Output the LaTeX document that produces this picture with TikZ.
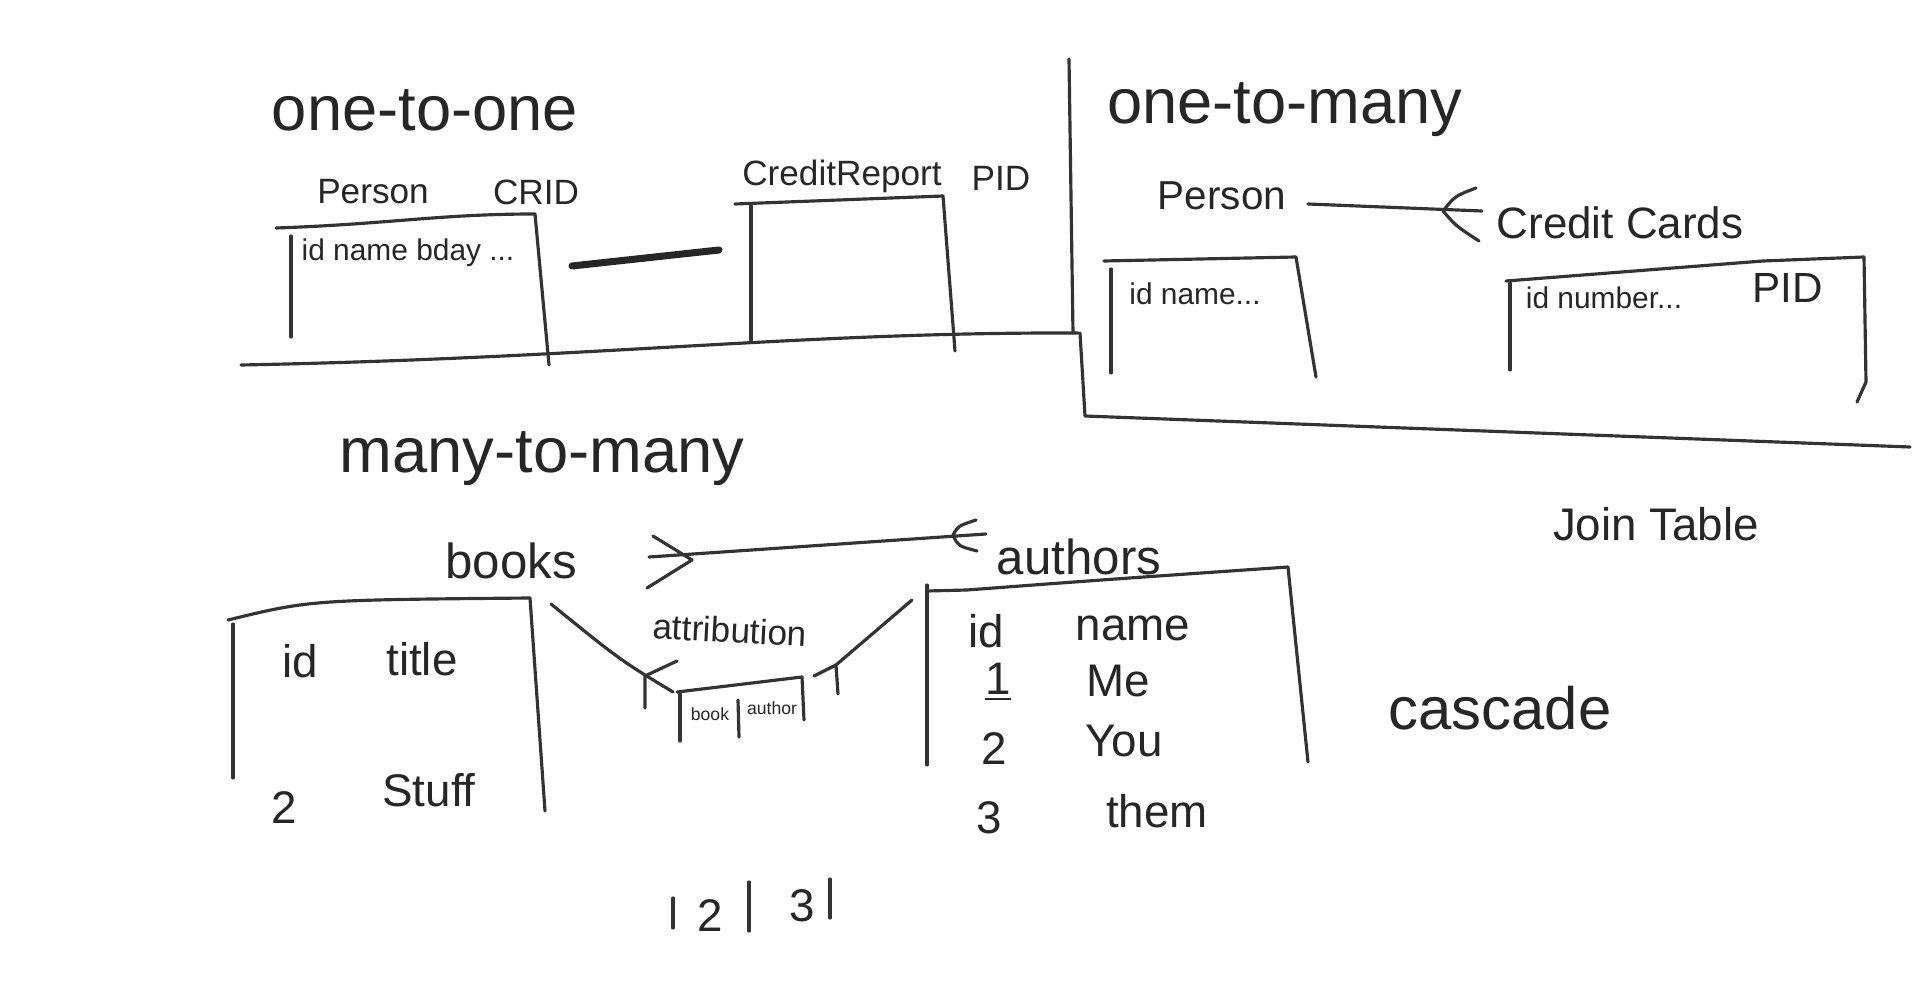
\documentclass[tikz,border=0pt]{standalone}
\usepackage{fontspec}
\setmainfont{Liberation Sans}
\usepackage{tikz}
\tikzset{
  font={\fontsize{10pt}{12}\selectfont},
  title/.style={font={\fontsize{18pt}{20}\selectfont}},
  tname/.style={font={\fontsize{14pt}{16}\selectfont}},
  lbl/.style={font={\fontsize{10pt}{12}\selectfont}},
  cell/.style={font={\fontsize{13pt}{15}\selectfont}},
  fields/.style={font={\fontsize{8.5pt}{10}\selectfont}},
  tiny/.style={font={\fontsize{5pt}{6}\selectfont}}}

\begin{document}
\begin{tikzpicture}[x=0.01cm,y=-0.01cm,line width=0.9pt,line cap=round,line join=round]
\tikzstyle{every node}+=[inner sep=0pt,text=black!85]
\useasboundingbox (0,0) rectangle (1920,997);
% one-to-one
\node [title] (oto) at (425,110) {one-to-one};
\node [lbl] (person1) at (373,192) {Person};
\node [lbl] (crid) at (536,192) {CRID};
\node [lbl] (creditreport) at (842,176) {CreditReport};
\node [lbl] (pid1) at (1001,178) {PID};
\node [fields] (personfields) at (408,253) {id name bday ...};
\draw [black!80] (276,228) .. controls (390,224) and (440,214) .. (535,214);
\draw [black!80] (291,236) -- (291,337);
\draw [black!80] (535,214) -- (549,365);
\draw [black!80] (735,204) -- (943,196);
\draw [black!80] (751,206) -- (751,340);
\draw [black!80] (943,196) -- (955,351);
\coordinate (p1R) at (572,266);
\coordinate (crL) at (719,250);
\draw [black!85,line width=2pt] (p1R) -- (crL);
\draw [black!80] (241,365) .. controls (600,358) and (800,332) .. (1078,333);
% one-to-many
\draw [black!80] (1069,59) -- (1073,333);
\draw [black!80] (1080,333) -- (1085,416) -- (1910,447);
\node [title] (otm) at (1285,110) {one-to-many};
\node [lbl,font={\fontsize{11.5pt}{13}\selectfont}] (person2) at (1222,196) {Person};
\node [lbl,font={\fontsize{12.5pt}{14}\selectfont}] (creditcards) at (1620,223) {Credit Cards};
\coordinate (p2R) at (1308,204);
\coordinate (ccL) at (1482,211);
\draw [black!80] (p2R) -- (ccL);
\draw [black!80] (1476,188) .. controls (1455,196) .. (1443,211) .. controls (1456,226) .. (1479,241);
\draw [black!80] (1104,261) -- (1296,257);
\draw [black!80] (1111,269) -- (1111,373);
\draw [black!80] (1296,257) -- (1316,377);
\node [fields] (person2fields) at (1195,294) {id name...};
\draw [black!80] (1506,281) -- (1763,261) -- (1864,257);
\draw [black!80] (1510,283) -- (1510,370);
\draw [black!80] (1864,257) -- (1866,382) -- (1857,402);
\node [fields] (ccfields) at (1604,298) {id number...};
\node [lbl,font={\fontsize{12pt}{14}\selectfont}] (pid2) at (1788,288) {PID};
% many-to-many
\node [title] (mtm) at (542,459) {many-to-many};
\node [tname] (books) at (511,561) {books};
\node [tname] (authors) at (1079,557) {authors};
\coordinate (bkR) at (649,557);
\coordinate (auL) at (986,534);
\draw [black!80] (bkR) -- (auL);
\draw [black!80] (653,536) -- (692,560) -- (647,588);
\draw [black!80] (976,520) .. controls (958,526) .. (953,535) .. controls (958,546) .. (977,551);
% books table
\draw [black!80] (228,620) .. controls (310,600) .. (530,598);
\draw [black!80] (233,624) -- (233,778);
\draw [black!80] (530,598) -- (545,811);
\node [cell] (bid) at (300,661) {id};
\node [cell] (btitle) at (422,659) {title};
\node [cell] (b2) at (284,808) {2};
\node [cell] (bstuff) at (429,790) {Stuff};
% authors table
\draw [black!80] (927,591) -- (967,590) .. controls (1100,580) .. (1288,567);
\draw [black!80] (927,585) -- (927,765);
\draw [black!80] (1288,567) -- (1308,762);
\node [cell] (aid) at (986,631) {id};
\node [cell] (aname) at (1133,628) {name};
\node [cell] (a1) at (998,682) {\underline{1}};
\node [cell] (ame) at (1118,681) {Me};
\node [cell] (a2) at (994,749) {2};
\node [cell] (ayou) at (1124,741) {You};
\node [cell] (a3) at (989,818) {3};
\node [cell] (athem) at (1157,811) {them};
% attribution
\node [lbl,rotate=-3] (attribution) at (730,630) {attribution};
\draw [black!80] (677,692) -- (802,677);
\draw [black!80] (680,694) -- (680,741);
\draw [black!80] (802,677) -- (804,720);
\draw [black!80] (738,700) -- (739,737);
\node [tiny] (atbook) at (710,714) {book};
\node [tiny] (atauthor) at (772,708) {author};
\coordinate (btR) at (551,604);
\coordinate (atL) at (673,692);
\draw [black!80] (btR) .. controls (620,660) .. (atL);
\draw [black!80] (677,661) -- (645,676) -- (645,708);
\coordinate (atR) at (836,665);
\coordinate (atL2) at (912,600);
\draw [black!80] (atL2) -- (atR);
\draw [black!80] (814,676) -- (836,665) -- (838,694);
% row below
\draw [black!80] (673,898) -- (673,928);
\node [cell] (r2) at (710,916) {2};
\draw [black!80] (749,882) -- (749,931);
\node [cell] (r3) at (802,906) {3};
\draw [black!80] (830,879) -- (830,918);
% notes
\node [lbl,font={\fontsize{13pt}{15}\selectfont}] (jointable) at (1656,524) {Join Table};
\node [title,font={\fontsize{17pt}{19}\selectfont}] (cascade) at (1500,708) {cascade};
\end{tikzpicture}
\end{document}
